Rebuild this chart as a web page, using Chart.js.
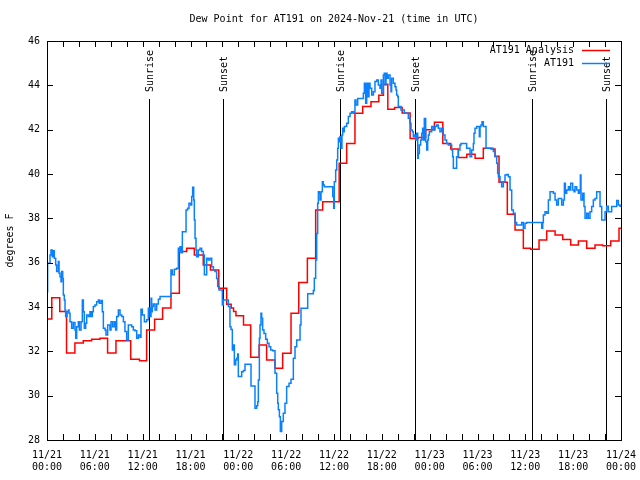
<!DOCTYPE html>
<html>
<head>
<meta charset="utf-8">
<script src="https://cdn.jsdelivr.net/npm/chart.js@4"></script>
<style>
html,body{margin:0;padding:0;background:#fff}
</style>
</head>
<body>
<canvas id="c" width="640" height="480"></canvas>
<script>
// hours since 2024-11-21 00:00 UTC, dew point in F
let analysisPoints = [
  [0,33.46],[0.6,34.42],[1.6,33.8],[2.45,31.93],[3.5,32.38],[4.55,32.48],[5.6,32.54],[6.65,32.59],
  [7.6,31.93],[8.65,32.48],[10.5,31.64],[11.6,31.57],[12.5,32.96],[13.5,33.45],[14.5,33.95],[15.55,34.62],
  [16.6,36.5],[17.52,36.65],[18.48,36.35],[19.6,35.9],[20.5,35.67],[21.55,34.85],[22.54,34.12],[23.1,33.95],
  [23.4,33.8],[23.7,33.6],[24.65,33.19],[25.55,31.73],[26.6,32.29],[27.55,31.61],[28.6,31.24],[29.56,31.91],
  [30.61,33.72],[31.58,35.1],[32.66,36.2],[33.7,38.38],[34.58,38.75],[36.65,40.48],[37.59,41.38],[38.63,42.74],
  [39.6,43.04],[40.64,43.26],[41.62,43.55],[42.2,44.05],[42.75,42.92],[43.6,43.0],[44.55,42.75],[45.55,41.6],
  [46.55,41.65],[47.5,42.0],[48.6,42.33],[49.65,41.38],[50.65,41.13],[51.6,40.75],[52.66,40.89],[53.7,40.71],
  [54.73,41.16],[55.7,41.13],[56.2,40.8],[56.7,39.63],[57.74,38.18],[58.71,37.47],[59.75,36.65],[60.67,36.6],
  [61.72,37.02],[62.68,37.43],[63.73,37.25],[64.69,37.05],[65.69,36.8],[66.65,36.98],[67.7,36.65],[68.74,36.8],
  [69.7,36.76],[70.71,36.98],[71.75,37.55],[72,37.55]
];

let stationPoints = [
  [0,34.69],[0.08,35.97],[0.38,36.35],[0.5,36.57],[0.67,36.27],[0.79,36.54],[0.92,36.2],[1.09,35.9],[1.21,35.6],
  [1.42,36.05],[1.51,35.52],[1.63,35.37],[1.76,35.14],[1.84,35.6],[1.97,35.29],[2.05,34.54],[2.17,34.32],[2.26,33.87],
  [2.34,33.57],[2.51,33.79],[2.68,33.87],[2.76,33.72],[2.89,33.34],[3.09,33.04],[3.3,33.3],[3.51,32.96],[3.6,32.59],
  [3.72,33.11],[3.93,33.34],[4.06,32.96],[4.27,33.34],[4.43,34.32],[4.56,33.79],[4.68,33.04],[4.85,33.27],[4.98,33.64],
  [5.19,33.57],[5.39,33.79],[5.52,33.57],[5.69,33.79],[5.81,34.02],[6.02,34.09],[6.23,34.24],[6.44,34.32],[6.56,34.17],
  [6.77,34.29],[6.94,33.79],[7.07,33.04],[7.28,32.96],[7.4,32.74],[7.61,33.19],[7.9,32.96],[8.03,33.34],[8.24,33.11],
  [8.45,33.34],[8.61,32.96],[8.74,33.57],[8.95,33.87],[9.16,33.64],[9.37,33.57],[9.58,33.34],[9.78,32.89],[9.99,32.51],
  [10.2,33.19],[10.62,33.11],[10.83,32.96],[11.04,32.93],[11.25,32.59],[11.46,32.74],[11.67,32.63],[11.79,33.9],
  [11.96,33.64],[12.21,33.34],[12.5,33.42],[12.71,33.94],[12.92,33.57],
  [13.05,34.39],[13.13,33.79],[13.21,34.02],[13.34,34.14],[13.55,33.87],[13.76,34.14],[13.97,34.35],[14.18,34.47],
  [15.55,35.67],[15.72,35.45],[15.97,35.7],[16.26,35.75],[16.47,36.65],[16.6,36.5],[16.68,36.72],[16.81,36.45],
  [16.98,37.4],[17.44,38.38],[17.64,38.45],[17.81,38.68],[18.02,38.6],[18.15,38.98],[18.27,39.4],[18.4,38.83],
  [18.48,37.93],[18.57,37.1],[18.69,36.57],[18.77,36.27],[18.98,36.57],[19.19,36.65],[19.4,36.5],[19.61,36.35],
  [19.74,35.45],[20.03,36.2],[20.24,36.12],[20.45,36.2],[20.66,35.82],[20.87,35.67],[21.07,35.6],[21.28,35.29],
  [21.41,34.92],[21.58,34.77],
  [21.99,34.09],[22.12,34.32],[22.75,34.02],[22.95,33.11],[23.08,32.99],[23.25,32.06],[23.37,32.29],[23.5,31.39],
  [23.67,31.61],[23.79,31.69],[23.92,31.88],[24.0,30.86],[24.42,31.08],[24.63,31.13],[24.84,31.42],[25.59,30.44],
  [26.09,29.43],[26.3,29.54],[26.43,29.73],[26.51,30.71],[26.64,32.59],[26.72,33.19],[26.84,33.72],[26.93,33.49],
  [27.05,32.96],[27.22,32.81],[27.43,32.54],[27.64,32.36],[27.85,32.21],[28.06,32.06],[28.31,32.03],[28.6,31.01],
  [28.81,30.11],[28.94,29.66],[29.02,29.36],[29.15,29.05],[29.27,28.38],[29.44,28.83],[29.64,29.21],[29.85,29.66],
  [30.06,30.41],[30.36,30.56],[30.61,30.74],[30.9,31.69],[31.11,32.21],[31.32,32.51],[31.74,33.19],
  [31.86,33.94],[32.7,34.6],[33.41,34.75],[33.53,35.3],[33.7,36.12],[33.83,37.32],[33.95,38.68],[34.04,39.2],
  [34.16,39.13],[34.25,38.83],[34.37,39.2],[34.54,39.65],[34.66,39.5],[34.79,39.43],[35.84,38.98],[35.96,38.45],
  [36.04,39.65],[36.21,40.18],[36.34,40.63],[36.46,41.16],[36.55,41.61],[36.67,41.46],[36.75,41.68],[36.88,41.16],
  [37.0,41.76],[37.09,42.06],[37.17,41.91],[37.3,42.14],[37.59,42.29],[37.8,42.59],[38.01,42.74],[38.22,42.81],
  [38.43,42.74],[38.63,43.34],[38.76,43.11],[38.97,43.41],[39.68,43.64],[39.81,44.09],[39.97,43.19],[40.1,44.09],
  [40.22,43.49],[40.39,44.09],[40.52,43.87],[40.73,43.56],[40.94,43.71],
  [41.14,44.17],[41.35,44.24],[41.56,44.02],[41.77,43.87],[41.9,44.24],[41.98,43.64],[42.19,44.47],[42.31,44.54],
  [42.4,44.02],[42.52,44.54],[42.65,44.32],[42.81,44.47],[43.03,44.02],[43.15,43.71],[43.23,44.32],[43.44,44.09],
  [43.65,43.94],[43.78,43.79],[43.86,43.56],[43.99,43.49],[44.07,43.04],[44.4,42.89],[44.82,42.74],[45.32,42.51],
  [45.53,42.29],[45.66,41.99],[45.83,41.91],[45.95,41.68],[46.08,41.76],[46.25,41.53],[46.37,41.84],[46.5,40.71],
  [46.58,40.93],[46.71,41.31],[46.87,41.53],[47.0,41.84],[47.12,42.06],[47.21,41.53],[47.33,42.5],[47.5,41.46],
  [47.63,41.08],[47.75,41.53],[47.84,41.76],[47.96,41.91],[48.25,42.14],[48.46,41.99],[48.67,42.14],[48.88,42.21],
  [49.09,42.06],[49.29,41.91],[49.5,42.06],[49.71,41.76],[49.92,41.53],[50.13,41.38],[50.34,41.31],[50.76,41.08],
  [50.88,40.78],[50.97,40.26],[51.38,40.78],[51.59,41.08],[51.8,41.31],[51.93,41.38],[52.64,41.16],[53.06,40.78],
  [53.27,41.08],[53.48,41.38],
  [53.56,41.84],[53.69,42.06],[53.9,42.14],[54.23,41.68],[54.32,42.14],[54.44,42.21],[54.57,42.36],[54.73,42.14],
  [55.07,41.16],[55.99,41.01],[56.2,40.78],[56.41,40.48],[56.53,40.03],[56.62,39.88],[56.83,39.65],[57.03,39.43],
  [57.24,39.65],[57.45,39.96],[57.66,39.98],[57.87,39.88],[58.08,39.28],[58.29,38.38],[58.5,38.23],[58.71,37.81],
  [58.91,37.7],[59.54,37.81],[59.75,37.55],[59.96,37.78],[60.17,37.81],[62.05,37.55],[62.18,37.81],[62.26,38.15],
  [62.47,38.3],[62.68,38.23],[62.89,38.83],[63.1,39.2],[63.52,39.13],[63.73,38.83],[63.93,38.6],[64.14,38.9],
  [64.56,38.6],[64.77,38.83],[64.9,39.58],[65.02,39.13],[65.19,39.28],[65.4,39.43],[65.52,39.28],[65.69,39.58],
  [65.94,39.28],[66.11,39.2],[66.23,39.43],[66.44,39.28],[66.65,39.13],[66.78,39.28],[66.9,39.96],[66.98,38.83],
  [67.19,39.13],[67.36,38.53],[67.49,38.0],[67.7,38.23],[67.9,38.0],[68.11,38.3],[68.32,38.53],[68.53,38.83],
  [68.74,38.9],[68.95,39.2],[69.37,38.53],[69.58,37.93],[70.0,38.3],[70.2,38.55],[70.41,38.3],[70.83,38.53],
  [71.46,38.8],[71.67,38.6],[71.88,38.55],[72,38.55]
];

let sunriseHours = [12.83, 36.8, 60.87];
let sunsetHours = [22.12, 46.15, 70.13];

let xTickHours = [0,6,12,18,24,30,36,42,48,54,60,66,72];
let xTickLabels = [
  ['11/21','00:00'],['11/21','06:00'],['11/21','12:00'],['11/21','18:00'],
  ['11/22','00:00'],['11/22','06:00'],['11/22','12:00'],['11/22','18:00'],
  ['11/23','00:00'],['11/23','06:00'],['11/23','12:00'],['11/23','18:00'],
  ['11/24','00:00']
];

let titleText = 'Dew Point for AT191 on 2024-Nov-21 (time in UTC)';
let yTitle = 'degrees F';

Chart.defaults.font.family = '"DejaVu Sans Mono", monospace';
Chart.defaults.font.size = 10;
Chart.defaults.color = '#000';

// border, ticks, sun lines, title, legend - gnuplot look
let frame = {
  id: 'frame',
  beforeDatasetsDraw(chart) {
    let {ctx, chartArea: a, scales: {x}} = chart;
    ctx.save();
    ctx.strokeStyle = '#000';
    ctx.lineWidth = 1;
    ctx.fillStyle = '#000';
    ctx.font = Chart.defaults.font.size + 'px ' + Chart.defaults.font.family;
    let draw = (h, txt) => {
      let px = Math.round(x.getPixelForValue(h)) + 0.5;
      ctx.beginPath();
      ctx.moveTo(px, a.top + 58);
      ctx.lineTo(px, a.bottom);
      ctx.stroke();
      ctx.save();
      ctx.translate(px + 1, a.top + 51);
      ctx.rotate(-Math.PI / 2);
      ctx.textAlign = 'left';
      ctx.textBaseline = 'middle';
      ctx.fillText(txt, 0, 0);
      ctx.restore();
    };
    sunriseHours.forEach(h => draw(h, 'Sunrise'));
    sunsetHours.forEach(h => draw(h, 'Sunset'));
    ctx.restore();
  },
  afterDraw(chart) {
    let {ctx, chartArea: a, scales: {x, y}} = chart;
    ctx.save();
    ctx.strokeStyle = '#000';
    ctx.lineWidth = 1;
    ctx.strokeRect(a.left + 0.5, a.top + 0.5, a.right - a.left, a.bottom - a.top);

    ctx.beginPath();
    for (let v = 28; v <= 46; v += 2) {
      let py = Math.round(y.getPixelForValue(v)) + 0.5;
      ctx.moveTo(a.left, py); ctx.lineTo(a.left + 6, py);
      ctx.moveTo(a.right, py); ctx.lineTo(a.right - 6, py);
    }
    for (let h = 0; h <= 72; h += 2) {
      let px = Math.round(x.getPixelForValue(h)) + 0.5;
      ctx.moveTo(px, a.bottom); ctx.lineTo(px, a.bottom - 6);
      ctx.moveTo(px, a.top); ctx.lineTo(px, a.top + 6);
    }
    ctx.stroke();

    ctx.fillStyle = '#000';
    ctx.font = Chart.defaults.font.size + 'px ' + Chart.defaults.font.family;
    ctx.textBaseline = 'middle';
    ctx.textAlign = 'center';
    ctx.fillText(titleText, (a.left + a.right) / 2, 19);

    ctx.save();
    ctx.translate(10, (a.top + a.bottom) / 2);
    ctx.rotate(-Math.PI / 2);
    ctx.fillText(yTitle, 0, 0);
    ctx.restore();

    // legend
    ctx.textAlign = 'right';
    chart.data.datasets.forEach((ds, i) => {
      let ly = a.top + 9 + i * 13;
      ctx.fillText(ds.label, a.right - 47, ly);
      ctx.strokeStyle = ds.borderColor;
      ctx.lineWidth = 1.5;
      ctx.beginPath();
      ctx.moveTo(a.right - 39, ly + 0.5);
      ctx.lineTo(a.right - 11, ly + 0.5);
      ctx.stroke();
    });
    ctx.restore();
  }
};

new Chart(document.getElementById('c'), {
  type: 'line',
  data: {
    datasets: [
      {
        label: 'AT191 Analysis',
        data: analysisPoints.map(p => ({x: p[0], y: p[1]})),
        borderColor: '#ff0000',
        stepped: true,
        order: 1
      },
      {
        label: 'AT191',
        data: stationPoints.map(p => ({x: p[0], y: p[1]})),
        borderColor: '#0a80ff',
        stepped: true,
        order: 0
      }
    ]
  },
  options: {
    responsive: false,
    animation: false,
    devicePixelRatio: 1,
    layout: {padding: {top: 41, right: 19, left: 0, bottom: 0}},
    elements: {point: {radius: 0}, line: {borderWidth: 1.5}},
    plugins: {legend: {display: false}, title: {display: false}, tooltip: {enabled: false}},
    scales: {
      x: {
        type: 'linear',
        min: 0,
        max: 72,
        grid: {display: false, drawTicks: false},
        border: {display: false},
        afterBuildTicks: s => { s.ticks = xTickHours.map(v => ({value: v})); },
        afterFit: s => { s.height = 40; s.paddingLeft = 0; s.paddingRight = 0; },
        ticks: {
          autoSkip: false,
          maxRotation: 0,
          padding: 9,
          callback: v => xTickLabels[xTickHours.indexOf(v)]
        }
      },
      y: {
        min: 28,
        max: 46,
        grid: {display: false, drawTicks: false},
        border: {display: false},
        afterFit: s => { s.width = 47; s.paddingTop = 0; s.paddingBottom = 0; },
        ticks: {stepSize: 2, padding: 7}
      }
    }
  },
  plugins: [frame]
});
</script>
</body>
</html>
